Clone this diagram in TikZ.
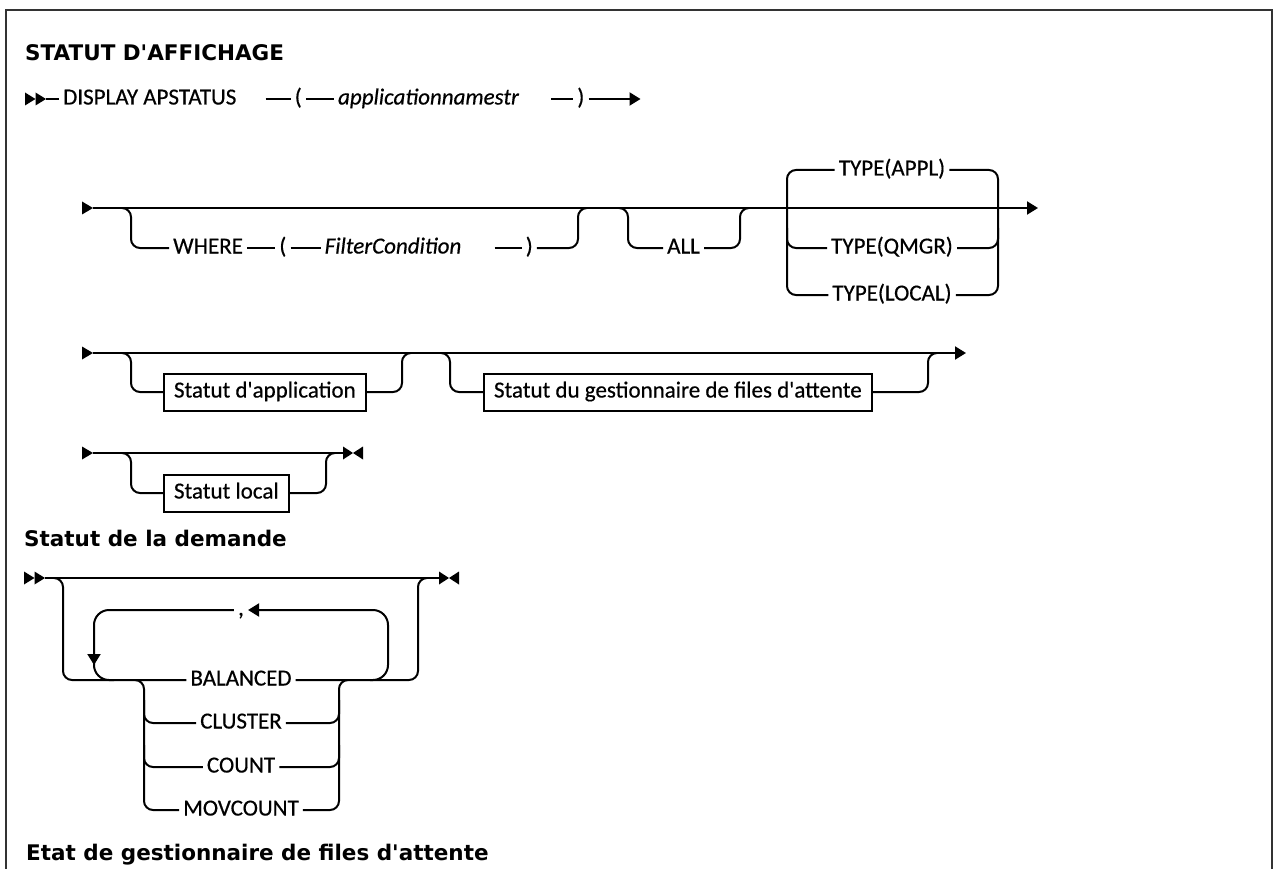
\documentclass[tikz,border=0pt]{standalone}
\usepackage{fontspec}
\setmainfont{Carlito}[Ligatures=TeXOff, FakeBold=0.5]
\newfontfamily\headfont{DejaVu Sans}[Ligatures=TeXOff]
\usetikzlibrary{arrows.meta, positioning}

\tikzset{
  %% Railroad track
  rail/.style={draw=black, line width=2pt, rounded corners=9pt},
  %% Track ending in an arrow head
  arr/.style={rail, -{Triangle[length=11pt,width=13pt]}},
  %% Keyword on the track
  kw/.style={font=\fontsize{23}{27}\selectfont,
             text height=16pt, text depth=5pt,
             inner xsep=4pt, inner ysep=0pt, anchor=west},
  %% Variable on the track
  var/.style={kw, font=\fontsize{23}{27}\selectfont\itshape},
  %% Fragment box
  frag/.style={kw, draw, line width=2pt, inner xsep=10pt, inner ysep=8pt},
  %% Section heading
  head/.style={font=\headfont\bfseries\fontsize{21.5}{25}\selectfont,
               anchor=base west, inner sep=0pt},
  %% Start, double start and stop marks
  rstart/.pic={\fill (0,-6.5) -- (11,0) -- (0,6.5) -- cycle;},
  rdstart/.pic={\fill (0,-6.5) -- (10.5,0) -- (0,6.5) -- cycle;
                \fill (10.5,-6.5) -- (21,0) -- (10.5,6.5) -- cycle;},
  rstop/.pic={\fill (0,-6.5) -- (10,0) -- (0,6.5) -- cycle;
              \fill (20,-6.5) -- (10,0) -- (20,6.5) -- cycle;},
}

\begin{document}
\begin{tikzpicture}[x=1pt, y=-1pt]
  \useasboundingbox (0,0) rectangle (1274,869);
  \clip (0,0) rectangle (1274,869);

  %% Frame
  \draw[line width=2.5pt, black!80] (6,10) rectangle (1272,905);

  %% Headings
  \node[head] (h1) at (25,61)  {STATUT D'AFFICHAGE};
  \node[head] (h2) at (24,546) {Statut de la demande};
  \node[head] (h3) at (26,860) {Etat de gestionnaire de files d'attente};

  %% Row 1
  \pic at (25,99) {rdstart};
  \coordinate (s1) at (46,99);
  \node[kw] (disp) at (59,99) {DISPLAY APSTATUS};
  \node[kw, right=50pt of disp] (lp1) {(};
  \node[var, right=28pt of lp1] (app) {applicationnamestr};
  \node[kw, right=50pt of app] (rp1) {)};
  \coordinate[right=52pt of rp1] (e1);
  \draw[rail] (s1) -- (disp);
  \draw[rail, shorten <=25pt] (disp) -- (lp1);
  \draw[rail] (lp1) -- (app);
  \draw[rail, shorten <=28pt] (app) -- (rp1);
  \draw[arr] (rp1) -- (e1);

  %% Row 2
  \pic at (82,208) {rstart};
  \coordinate (s2) at (93,208);
  \coordinate (e2) at (1038,208);
  \draw[arr] (s2) -- (e2);

  %% WHERE ( FilterCondition )
  \node[kw] (where) at (169,248) {WHERE};
  \node[kw, right=28pt of where] (lp2) {(};
  \node[var, right=30pt of lp2] (fc) {FilterCondition};
  \node[kw, right=56pt of fc] (rp2) {)};
  \coordinate (w1) at (131,208); \coordinate (w2) at (131,248);
  \coordinate (w3) at (578,248); \coordinate (w4) at (578,208);
  \draw[rail] (w1) ++(-9,0) -- (w1) -- (w2) -- (where);
  \draw[rail] (where) -- (lp2);
  \draw[rail] (lp2) -- (fc);
  \draw[rail, shorten <=29pt] (fc) -- (rp2);
  \draw[rail] (rp2) -- (w3) -- (w4) -- ++(9,0);

  %% ALL
  \node[kw] (all) at (663,248) {ALL};
  \coordinate (a1) at (628,208); \coordinate (a2) at (628,248);
  \coordinate (a3) at (740,248); \coordinate (a4) at (740,208);
  \draw[rail] (a1) ++(-9,0) -- (a1) -- (a2) -- (all);
  \draw[rail] (all) -- (a3) -- (a4) -- ++(9,0);

  %% TYPE choice
  \node[kw, anchor=center] (appl) at (892,170) {TYPE(APPL)};
  \node[kw, anchor=center] (qmgr) at (892,248) {TYPE(QMGR)};
  \node[kw, anchor=center] (tloc) at (892,295) {TYPE(LOCAL)};
  \coordinate (t1) at (787,170); \coordinate (t2) at (787,295);
  \coordinate (t3) at (998,170); \coordinate (t4) at (998,295);
  \coordinate (t5) at (787,228); \coordinate (t6) at (787,248);
  \coordinate (t7) at (998,248); \coordinate (t8) at (998,228);
  \draw[rail] (appl) -- (t1) -- (t2) -- (tloc);
  \draw[rail] (appl) -- (t3) -- (t4) -- (tloc);
  \draw[rail] (t5) -- (t6) -- (qmgr) -- (t7) -- (t8);

  %% Row 3
  \pic at (82,353) {rstart};
  \coordinate (s3) at (93,353);
  \coordinate (e3) at (966,353);
  \draw[arr] (s3) -- (e3);
  \node[frag] (appst) at (163,392) {Statut d'application};
  \node[frag] (qmst)  at (483,392) {Statut du gestionnaire de files d'attente};
  \coordinate (p1) at (131,353); \coordinate (p2) at (131,392);
  \coordinate (p3) at (402,392); \coordinate (p4) at (402,353);
  \coordinate (q1) at (450,353); \coordinate (q2) at (450,392);
  \coordinate (q3) at (928,392); \coordinate (q4) at (928,353);
  \draw[rail] (p1) ++(-9,0) -- (p1) -- (p2) -- (appst);
  \draw[rail] (appst) -- (p3) -- (p4) -- ++(9,0);
  \draw[rail] (q1) ++(-9,0) -- (q1) -- (q2) -- (qmst);
  \draw[rail] (qmst) -- (q3) -- (q4) -- ++(9,0);

  %% Row 4
  \pic at (82,453) {rstart};
  \coordinate (s4) at (93,453);
  \coordinate (e4) at (343,453);
  \draw[rail] (s4) -- (e4);
  \pic at (343,453) {rstop};
  \node[frag] (locst) at (163,493) {Statut local};
  \coordinate (l1) at (131,453); \coordinate (l2) at (131,493);
  \coordinate (l3) at (326,493); \coordinate (l4) at (326,453);
  \draw[rail] (l1) ++(-9,0) -- (l1) -- (l2) -- (locst);
  \draw[rail] (locst) -- (l3) -- (l4) -- ++(9,0);

  %% Row 5: Statut de la demande
  \pic at (24,578) {rdstart};
  \coordinate (s5) at (45,578);
  \coordinate (e5) at (439,578);
  \draw[rail] (s5) -- (e5);
  \pic at (439,578) {rstop};

  \node[kw, anchor=center] (bal)   at (241,680) {BALANCED};
  \node[kw, anchor=center] (clu)   at (241,723) {CLUSTER};
  \node[kw, anchor=center] (cnt)   at (241,767) {COUNT};
  \node[kw, anchor=center] (mov)   at (241,810) {MOVCOUNT};
  \node[kw, anchor=center] (comma) at (241,610) {,};

  %% Outer optional path
  \coordinate (o1) at (63,578);  \coordinate (o2) at (63,680);
  \coordinate (o3) at (418,680); \coordinate (o4) at (418,578);
  \draw[rail] (o1) ++(-9,0) -- (o1) -- (o2) -- (bal);
  \draw[rail] (bal) -- (o3) -- (o4) -- ++(9,0);

  %% Choice bars
  \coordinate (c1) at (144,680);  \coordinate (c2) at (144,810);
  \coordinate (c3) at (339,680);  \coordinate (c4) at (339,810);
  \coordinate (c5) at (144,700);  \coordinate (c6) at (144,723);
  \coordinate (c7) at (144,745);  \coordinate (c8) at (144,767);
  \coordinate (c9) at (339,723);  \coordinate (c10) at (339,700);
  \coordinate (c11) at (339,767); \coordinate (c12) at (339,745);
  \draw[rail] (c1) ++(-9,0) -- (c1) -- (c2) -- (mov) -- (c4) -- (c3) -- ++(9,0);
  \draw[rail] (c5) -- (c6) -- (clu) -- (c9) -- (c10);
  \draw[rail] (c7) -- (c8) -- (cnt) -- (c11) -- (c12);

  %% Repeat loop
  \coordinate (k1) at (370,680); \coordinate (k2) at (388,680);
  \coordinate (k3) at (388,610); \coordinate (k4) at (94,610);
  \coordinate (k5) at (94,665);  \coordinate (k6) at (94,655);
  \coordinate (k7) at (94,680);
  \draw[arr, rounded corners=15pt] (k1) -- (k2) -- (k3) -- (comma);
  \draw[arr, rounded corners=15pt] (comma) -- (k4) -- (k5);
  \draw[rail, rounded corners=15pt] (k6) -- (k7) -- ++(20,0);

\end{tikzpicture}
\end{document}
